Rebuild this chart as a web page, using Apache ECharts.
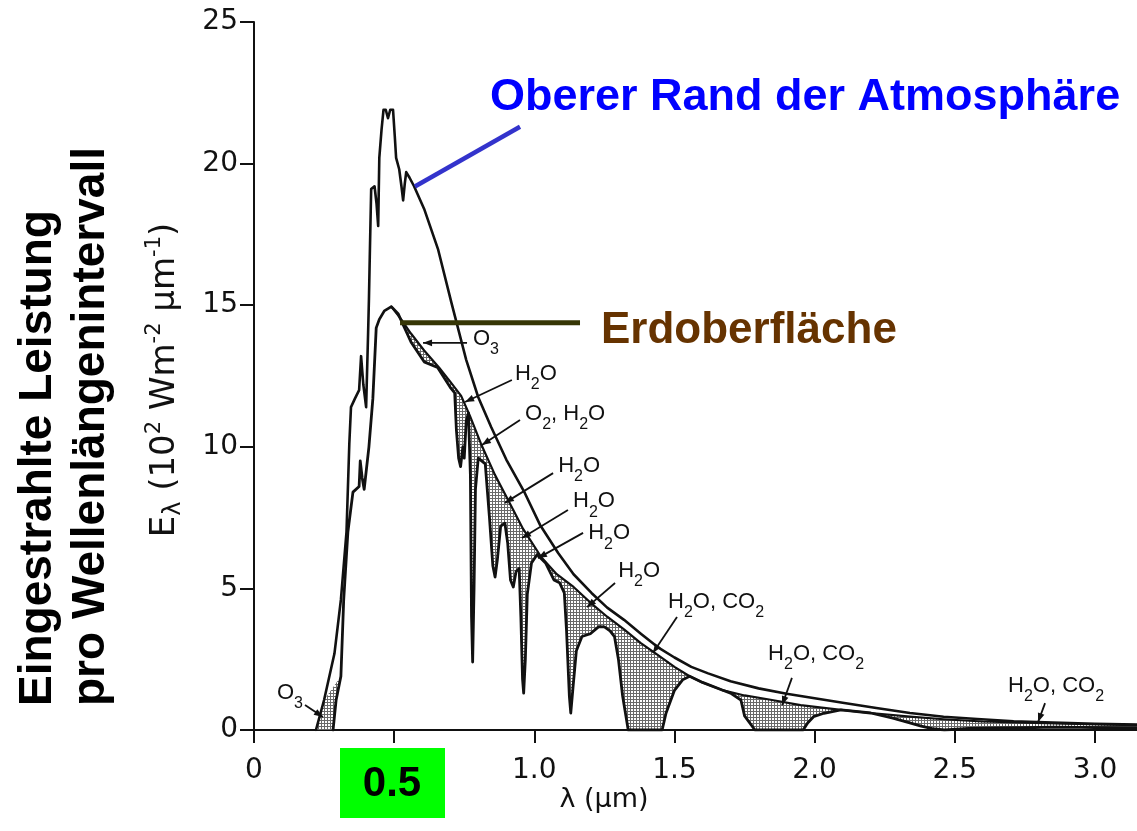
<!DOCTYPE html>
<html>
<head>
<meta charset="utf-8">
<title>Sonnenspektrum</title>
<script src="https://cdn.jsdelivr.net/npm/echarts@6.0.0/dist/echarts.min.js"></script>
<style>
html,body{margin:0;padding:0;background:#ffffff;}
#chart{width:1137px;height:831px;}
</style>
</head>
<body>
<div id="chart"></div>
<script>
// ---------------- data ----------------
// Top of atmosphere (Oberer Rand der Atmosphäre)
const toaX = [0.221,0.25,0.287,0.31,0.33,0.34,0.346,0.36,0.375,0.382,0.39,0.40,0.407,0.41,0.413,0.418,0.43,0.437,0.443,0.447,0.455,0.462,0.47,0.478,0.486,0.496,0.502,0.507,0.518,0.526,0.532,0.538,0.543,0.555,0.571,0.607,0.657,0.704,0.757,0.80,0.846,0.90,0.966,1.02,1.085,1.14,1.204,1.26,1.32,1.38,1.44,1.50,1.56,1.62,1.70,1.80,1.90,2.00,2.10,2.22,2.34,2.46,2.58,2.71,2.85,3.00,3.15];
const toaY = [0,1.06,2.7,4.6,7.0,10.1,11.4,11.7,12.0,13.2,12.2,11.4,14.0,15.2,16.7,19.1,19.2,18.6,17.8,20.2,21.2,21.9,21.9,21.6,21.9,21.9,21.0,20.2,19.8,19.2,18.7,19.3,19.7,19.5,19.2,18.4,16.96,15.1,13.07,11.75,10.7,9.55,8.37,7.25,6.25,5.5,4.84,4.32,3.89,3.4,2.93,2.56,2.23,2.0,1.72,1.47,1.28,1.12,0.96,0.78,0.6,0.47,0.39,0.31,0.26,0.22,0.19];
// Surface without gas absorption (upper edge of the shaded areas)
const envX = [0.49,0.525,0.56,0.607,0.66,0.70,0.739,0.77,0.81,0.86,0.906,0.96,1.025,1.08,1.14,1.20,1.26,1.32,1.38,1.44,1.50,1.554,1.60,1.67,1.75,1.848,1.95,2.094,2.20,2.34,2.46,2.60,2.75,2.90,3.05,3.15];
const envY = [14.95,14.5,14.0,13.4,12.8,12.3,11.8,11.1,10.1,9.0,8.13,7.1,6.1,5.5,5.05,4.5,4.0,3.55,3.07,2.65,2.23,1.9,1.68,1.41,1.22,1.06,0.88,0.71,0.6,0.47,0.38,0.3,0.26,0.22,0.19,0.17];
// Earth surface (Erdoberfläche)
const surfX = [0.282,0.293,0.31,0.32,0.335,0.353,0.375,0.379,0.386,0.393,0.41,0.424,0.436,0.447,0.465,0.49,0.514,0.56,0.607,0.655,0.70,0.716,0.722,0.73,0.737,0.745,0.75,0.757,0.765,0.772,0.776,0.78,0.785,0.79,0.80,0.825,0.84,0.852,0.86,0.868,0.88,0.895,0.905,0.915,0.925,0.935,0.946,0.952,0.958,0.962,0.968,0.975,0.99,1.01,1.04,1.07,1.09,1.107,1.115,1.125,1.13,1.138,1.15,1.17,1.20,1.23,1.25,1.27,1.286,1.30,1.315,1.335,1.456,1.47,1.50,1.529,1.554,1.60,1.67,1.70,1.737,1.75,1.787,1.959,1.975,1.996,2.033,2.094,2.20,2.279,2.33,2.38,2.42,2.463,2.55,2.65,2.75,2.85,2.95,3.05,3.15];
const surfY = [0,1.06,1.9,4.6,7.0,8.4,8.6,9.5,8.9,8.5,10.0,11.7,14.2,14.5,14.8,14.95,14.7,13.7,13.0,12.8,12.1,11.9,10.6,9.6,9.3,10.0,9.6,10.9,11.2,9.0,4.0,2.4,5.0,8.5,9.6,9.4,7.5,5.8,5.4,6.0,7.2,7.3,6.6,5.3,5.05,5.6,5.7,4.0,1.8,1.3,2.5,4.8,5.9,6.2,5.9,5.3,5.2,4.84,3.5,1.2,0.6,1.5,2.8,3.3,3.4,3.65,3.64,3.5,3.3,2.5,1.2,0,0,0.6,1.4,1.77,1.9,1.68,1.41,1.3,1.06,0.5,0,0,0.25,0.47,0.59,0.71,0.6,0.42,0.28,0.14,0.05,0,0.06,0.07,0.08,0.1,0.09,0.08,0.07];

const xTickValues = [0, 0.5, 1, 1.5, 2, 2.5, 3];
const xLabelValues = [0, 1, 1.5, 2, 2.5, 3];
const yTickValues = [0, 5, 10, 15, 20, 25];

// absorber labels ("_" marks a subscript digit) and their pointers
// layout in data units: [textX, textY, fromX, fromY, toX, toY]
const noteTexts = ['O_3','H_2O','O_2, H_2O','H_2O','H_2O','H_2O','H_2O','H_2O, CO_2','H_2O, CO_2','H_2O, CO_2','O_3'];
const noteLayout = [
  [0.781,13.67, 0.760,13.67, 0.603,13.67],
  [0.931,12.43, 0.920,12.36, 0.753,11.58],
  [0.967,11.02, 0.949,10.95, 0.813,10.06],
  [1.085,9.18, 1.067,9.07, 0.895,8.02],
  [1.138,7.94, 1.120,7.77, 0.956,6.78],
  [1.192,6.81, 1.174,6.96, 1.013,6.07],
  [1.299,5.47, 1.288,5.19, 1.188,4.34],
  [1.477,4.38, 1.509,3.99, 1.423,2.72],
  [1.834,2.54, 1.919,1.84, 1.884,0.88],
  [2.690,1.41, 2.822,0.95, 2.797,0.28],
  [0.082,1.17, 0.182,0.88, 0.246,0.46]
];

// ---------------- chart ----------------
const chart = echarts.init(document.getElementById('chart'), null, {renderer: 'canvas'});
const zip = (xs, ys) => xs.map((x, i) => [x, ys[i]]);
const toa = zip(toaX, toaY);
const env = zip(envX, envY);
const surf = zip(surfX, surfY);

// fine cross-hatch like the printed figure
const pc = document.createElement('canvas');
pc.width = 3; pc.height = 3;
const pg = pc.getContext('2d');
pg.fillStyle = '#ffffff'; pg.fillRect(0, 0, 3, 3);
pg.fillStyle = '#6a6a6a'; pg.fillRect(0, 0, 3, 1); pg.fillRect(0, 0, 1, 3);
const hatch = {image: pc, repeat: 'repeat'};

const peakIdx = surfX.indexOf(envX[0]);
const absorbPoly = env.concat(surf.slice(peakIdx).reverse());
const uvPoly = toa.slice(0, 2).concat(surf.slice(0, 3).reverse());

const ink = '#111111';
const lineSeries = (name, data, w) => ({
  name, type: 'line', data, symbol: 'none', showSymbol: false, silent: true,
  lineStyle: {color: ink, width: w, join: 'round', cap: 'round'}, z: 3
});

const option = {
  animation: false,
  backgroundColor: '#ffffff',
  grid: {left: 254, right: 0, top: 22, bottom: 101, containLabel: false},
  xAxis: {
    type: 'value', min: 0, max: 3.15, interval: 0.5,
    axisLine: {show: true, onZero: false, lineStyle: {color: ink, width: 2}},
    axisTick: {show: true, inside: false, length: 13, customValues: xTickValues, lineStyle: {color: ink, width: 2}},
    axisLabel: {customValues: xLabelValues, formatter: v => (v === 0 ? '0' : v.toFixed(1)),
      fontFamily: 'DejaVu Sans', fontSize: 28, color: ink, margin: 27},
    splitLine: {show: false}
  },
  yAxis: {
    type: 'value', min: 0, max: 25, interval: 5,
    axisLine: {show: true, onZero: false, lineStyle: {color: ink, width: 2}},
    axisTick: {show: true, inside: false, length: 14, customValues: yTickValues, lineStyle: {color: ink, width: 2}},
    axisLabel: {fontFamily: 'DejaVu Sans', fontSize: 28, color: ink, margin: 16},
    splitLine: {show: false}
  },
  series: [
    {
      type: 'custom', coordinateSystem: 'cartesian2d', data: [[0, 0]], silent: true, z: 1,
      renderItem: (params, api) => ({
        type: 'group',
        children: [absorbPoly, uvPoly].map(poly => ({
          type: 'polygon',
          shape: {points: poly.map(p => api.coord(p))},
          style: {fill: hatch, stroke: null}
        }))
      })
    },
    lineSeries('Oberer Rand der Atmosphäre', toa, 2.6),
    lineSeries('ohne Absorption', env, 2.2),
    lineSeries('Erdoberfläche', surf, 2.8)
  ]
};
chart.setOption(option);

// ---------------- annotations ----------------
const P = (x, y) => chart.convertToPixel({gridIndex: 0}, [x, y]);
const graphics = [];

function arrow(a, b, color, width, head) {
  graphics.push({type: 'line', silent: true, z: 10,
    shape: {x1: a[0], y1: a[1], x2: b[0], y2: b[1]},
    style: {stroke: color, lineWidth: width}});
  if (head) {
    const dx = b[0] - a[0], dy = b[1] - a[1], L = Math.hypot(dx, dy);
    const ux = dx / L, uy = dy / L, nx = -uy, ny = ux;
    graphics.push({type: 'polygon', silent: true, z: 10,
      shape: {points: [[b[0], b[1]],
        [b[0] - ux * head + nx * head * 0.38, b[1] - uy * head + ny * head * 0.38],
        [b[0] - ux * head - nx * head * 0.38, b[1] - uy * head - ny * head * 0.38]]},
      style: {fill: color}});
  }
}

// turn "H_2O" into rich text with a real subscript
function chem(s) {
  return s.split(/(_\d)/).filter(p => p.length).map(p =>
    p[0] === '_' ? '{s|' + p.slice(1) + '}' : '{n|' + p + '}').join('');
}
const chemRich = {
  n: {fontFamily: 'Liberation Sans', fontSize: 22, lineHeight: 30, fill: ink, color: ink, verticalAlign: 'top'},
  s: {fontFamily: 'Liberation Sans', fontSize: 16, lineHeight: 16, fill: ink, color: ink, verticalAlign: 'bottom'}
};

noteTexts.forEach((t, i) => {
  const L = noteLayout[i];
  const tp = P(L[0], L[1]);
  graphics.push({type: 'text', silent: true, z: 11, x: tp[0], y: tp[1],
    style: {text: chem(t), rich: chemRich, align: 'left', verticalAlign: 'middle'}});
  arrow(P(L[2], L[3]), P(L[4], L[5]), ink, 1.8, 9);
});

// blue pointer and label
arrow(P(0.574, 19.19), P(0.949, 21.3), '#3333cc', 4.5, 0);
graphics.push({type: 'text', silent: true, z: 11, x: 490, y: 98,
  style: {text: 'Oberer Rand der Atmosphäre', fontFamily: 'Liberation Sans', fontWeight: 'bold', fontSize: 45,
    fill: '#0000ff', align: 'left', verticalAlign: 'middle'}});
// olive pointer and label
arrow(P(0.521, 14.38), P(1.163, 14.38), '#363605', 5, 0);
graphics.push({type: 'text', silent: true, z: 11, x: 601, y: 331,
  style: {text: 'Erdoberfläche', fontFamily: 'Liberation Sans', fontWeight: 'bold', fontSize: 44,
    fill: '#663300', align: 'left', verticalAlign: 'middle'}});

// green 0.5 box
graphics.push({type: 'rect', silent: true, z: 11, shape: {x: 340, y: 748, width: 105, height: 70}, style: {fill: '#00ff00'}});
graphics.push({type: 'text', silent: true, z: 12, x: 392, y: 784,
  style: {text: '0.5', fontFamily: 'Liberation Sans', fontWeight: 'bold', fontSize: 42, fill: '#000000', align: 'center', verticalAlign: 'middle'}});

// x axis title
graphics.push({type: 'text', silent: true, z: 11, x: 604, y: 800,
  style: {text: 'λ (μm)', fontFamily: 'DejaVu Sans', fontSize: 27, fill: ink, align: 'center', verticalAlign: 'middle'}});

// y axis title (rotated)
graphics.push({type: 'text', silent: true, z: 11, x: 165, y: 380, rotation: Math.PI / 2,
  style: {text: '{a|E}{s|λ}{a| (10}{p|2}{a| Wm}{p|-2}{a| μm}{p|-1}{a|)}', align: 'center', verticalAlign: 'middle',
    rich: {
      a: {fontFamily: 'DejaVu Sans', fontSize: 34, lineHeight: 42, fill: ink, color: ink, verticalAlign: 'middle'},
      s: {fontFamily: 'DejaVu Sans', fontSize: 24, lineHeight: 24, fill: ink, color: ink, verticalAlign: 'bottom'},
      p: {fontFamily: 'DejaVu Sans', fontSize: 21, lineHeight: 21, fill: ink, color: ink, verticalAlign: 'top'}
    }}});

// outer German axis title (two rotated lines)
graphics.push({type: 'text', silent: true, z: 11, x: 38, y: 706, rotation: Math.PI / 2,
  style: {text: 'Eingestrahlte Leistung', fontFamily: 'Liberation Sans', fontWeight: 'bold', fontSize: 46,
    fill: '#000000', align: 'left', verticalAlign: 'middle'}});
graphics.push({type: 'text', silent: true, z: 11, x: 91, y: 706, rotation: Math.PI / 2,
  style: {text: 'pro Wellenlängenintervall', fontFamily: 'Liberation Sans', fontWeight: 'bold', fontSize: 46,
    fill: '#000000', align: 'left', verticalAlign: 'middle'}});

chart.setOption({graphic: graphics});
</script>
</body>
</html>
